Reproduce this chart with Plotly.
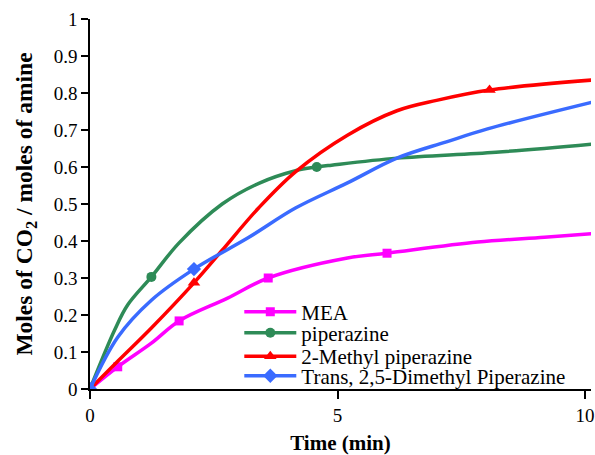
import plotly.graph_objects as go

# CO2 loading (moles CO2 / moles amine) versus time (min)
mea_t = [0, 0.56, 1.24, 1.8, 2.77, 3.6, 5.2, 6.0, 7.83, 9.18, 10.14]
mea_v = [0, 0.06, 0.124, 0.184, 0.245, 0.30, 0.354, 0.367, 0.397, 0.41, 0.42]
mea_marks = [0, 1, 3, 5, 7]

pz_t = [0, 0.5, 0.76, 1.24, 1.8, 2.67, 3.41, 4.15, 4.58, 4.88, 6.2, 8.2, 10.14]
pz_v = [0, 0.16, 0.227, 0.303, 0.395, 0.50, 0.556, 0.59, 0.60, 0.605, 0.624, 0.64, 0.662]
pz_marks = [0, 3, 8]

mpz_t = [0, 0.56, 1.24, 2.1, 2.67, 3.41, 4.15, 5.2, 6.2, 7.0, 8.07, 10.14]
mpz_v = [0, 0.075, 0.165, 0.287, 0.375, 0.49, 0.587, 0.686, 0.752, 0.78, 0.808, 0.835]
mpz_marks = [0, 3, 10]

dmpz_t = [0, 0.56, 1.24, 2.1, 3.21, 4.15, 5.2, 6.2, 7.2, 8.03, 10.14]
dmpz_v = [0, 0.14, 0.24, 0.324, 0.41, 0.489, 0.557, 0.624, 0.668, 0.703, 0.775]
dmpz_marks = [0, 3]

series = [
    ("MEA", mea_t, mea_v, mea_marks, "#FF00FF", "square", 9),
    ("piperazine", pz_t, pz_v, pz_marks, "#2E8B57", "circle", 10),
    ("2-Methyl piperazine", mpz_t, mpz_v, mpz_marks, "#FF0000", "triangle-up", 11),
    ("Trans, 2,5-Dimethyl Piperazine", dmpz_t, dmpz_v, dmpz_marks, "#3A6BFF", "diamond", 11),
]

font_family = "Liberation Serif, Times New Roman, serif"
legend_ids = ["legend", "legend2", "legend3", "legend4"]
legend_tops = [0.2630, 0.2063, 0.1430, 0.0903]

fig = go.Figure()
for (name, t, v, marks, color, sym, size), lid in zip(series, legend_ids):
    fig.add_trace(go.Scatter(
        x=t, y=v, mode="lines", showlegend=False,
        line=dict(color=color, width=3.5, shape="spline", smoothing=1.0),
        hoverinfo="skip"))
    fig.add_trace(go.Scatter(
        x=[t[i] for i in marks], y=[v[i] for i in marks], mode="markers",
        showlegend=False, marker=dict(color=color, symbol=sym, size=size)))
    # legend entry showing line with marker
    fig.add_trace(go.Scatter(
        x=[None], y=[None], mode="lines+markers", name=name, legend=lid,
        line=dict(color=color, width=3.5),
        marker=dict(color=color, symbol=sym, size=size)))

legend_style = dict(
    x=0.298, xanchor="left", yanchor="top",
    font=dict(size=21, family=font_family, color="black"),
    bgcolor="rgba(0,0,0,0)", itemwidth=52,
)

fig.update_layout(
    width=595, height=455,
    margin=dict(l=90, r=0, t=19, b=66),
    paper_bgcolor="white", plot_bgcolor="white",
    font=dict(family=font_family, color="black", size=19),
    **{lid: dict(y=top, **legend_style) for lid, top in zip(legend_ids, legend_tops)},
    xaxis=dict(
        range=[0, 10.12], tickvals=[0, 5, 10], ticks="outside", ticklen=8,
        tickwidth=1.5, tickcolor="black", showline=True, linecolor="black",
        linewidth=1.5, showgrid=False, zeroline=False, ticklabeloverflow="allow",
        tickfont=dict(size=19, family=font_family),
        title=dict(text="<b>Time (min)</b>", font=dict(size=21, family=font_family),
                   standoff=14),
    ),
    yaxis=dict(
        range=[0, 1], dtick=0.1, ticks="outside", ticklen=7,
        tickwidth=1.5, tickcolor="black", showline=True, linecolor="black",
        linewidth=1.5, showgrid=False, zeroline=False,
        tickfont=dict(size=19, family=font_family),
        title=dict(text="<b>Moles of CO<sub>2</sub> / moles of amine</b>",
                   font=dict(size=23.5, family=font_family), standoff=14),
    ),
)

fig.write_html("out.html")
